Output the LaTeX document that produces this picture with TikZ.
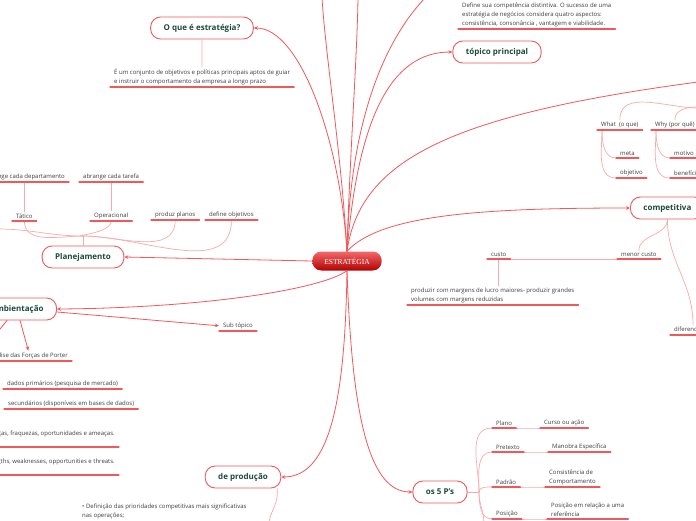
\documentclass[tikz,border=0pt]{standalone}
\usepackage{fontspec}
\setmainfont{Open Sans}
\newfontfamily\slabfont{Liberation Serif}
\usepackage{tikz}
\usetikzlibrary{arrows.meta,calc,positioning}
\definecolor{mmred}{HTML}{F2575A}
\definecolor{mmpink}{HTML}{F7AAAA}
\definecolor{mmgreen}{HTML}{1D4A3A}
\definecolor{mmtext}{HTML}{3C3C3C}

\begin{document}
\begin{tikzpicture}[x=1pt, y=1pt, >={Stealth[length=4pt,width=3.6pt]}, line cap=round, line join=round,
  topic/.style={draw=mmred, line width=.9pt, fill=white, rounded corners=10pt, minimum height=22pt,
    inner xsep=13pt, font=\bfseries\fontsize{8}{10}\selectfont, text=mmgreen},
  leaf/.style={font=\fontsize{6}{9}\selectfont, text=mmtext, inner xsep=4pt, inner ysep=2pt, align=left},
  branch/.style={draw=mmred, line width=.8pt},
  twig/.style={draw=mmpink, line width=.7pt},
  uline/.style={mmred, line width=1.2pt}]
  \useasboundingbox (0,0) rectangle (696,-520);
  \clip (0,0) rectangle (696,-520);

  % Central idea and main topics.
  \node[rounded corners=9pt, minimum height=19pt, inner xsep=12pt, top color=mmred!90!white,
    bottom color=red!70!black, text=white, font=\slabfont\fontsize{7.5}{9}\selectfont] (ctr) at (347,-261) {ESTRATÉGIA};
  \node[topic] (whatis) at (202,-28) {O que é estratégia?};
  \node[topic] (main) at (497,-52) {tópico principal};
  \node[topic] (plan) at (83,-257) {Planejamento};
  \node[topic, anchor=east] (amb) at (57,-309) {Ambientação};
  \node[topic] (prod) at (243,-477) {de produção};
  \node[topic] (fivep) at (440,-492) {os 5 P's};
  \node[topic, anchor=west] (comp) at (630,-208) {competitiva};

  \coordinate (upA) at (322,2);
  \coordinate (upB) at (358,2);
  \coordinate (upC) at (425,2);
  \coordinate (offR) at (698,-82);
  \draw[branch, ->] (ctr.north) .. controls (340,-140) and (300,-28) .. (whatis.east);
  \draw[branch] (ctr.north) .. controls (341,-150) and (326,-60) .. (upA);
  \draw[branch] (ctr.north) .. controls (350,-150) and (357,-60) .. (upB);
  \draw[branch] (ctr.north) .. controls (350,-120) and (385,-40) .. (upC);
  \draw[branch, ->] (ctr.north) .. controls (358,-120) and (390,-52) .. (main.west);
  \draw[branch] (ctr.north) .. controls (360,-160) and (450,-115) .. (offR);
  \draw[branch, ->] (ctr.north) .. controls (380,-215) and (480,-208) .. (comp.west);
  \draw[branch, ->] (ctr.west) -- (plan.east);
  \draw[branch, ->] (ctr.south) .. controls (320,-290) and (200,-308) .. (amb.east);
  \draw[branch, ->] (ctr.south) .. controls (345,-400) and (330,-477) .. (prod.east);
  \draw[branch, ->] (ctr.south) .. controls (352,-420) and (370,-492) .. (fivep.west);

  % O que e estrategia / topo.
  \node[leaf, anchor=south west] (whatisdef) at (110,-87) {É um conjunto de objetivos e políticas principais aptos de guiar\\e instruir o comportamento da empresa a longo prazo};
  \node[leaf, anchor=south west] (define) at (458,-29) {Define sua competência distintiva. O sucesso de uma\\estratégia de negócios considera quatro aspectos:\\consistência, consonância , vantagem e viabilidade.};
  \draw[twig] (whatis.south) -- (whatisdef.north);

  % Planejamento.
  \node[leaf, anchor=south west] (tatico) at (12,-221) {Tático};
  \node[leaf, anchor=south west] (oper) at (90,-221) {Operacional};
  \node[leaf, anchor=south west] (plans) at (151,-220) {produz planos};
  \node[leaf, anchor=south west] (goals) at (205,-220) {define objetivos};
  \node[leaf, anchor=south east] (dept) at (69,-182) {abrange cada departamento};
  \node[leaf, anchor=south west] (task) at (79,-182) {abrange cada tarefa};
  \coordinate (planj) at (83,-236);
  \coordinate (planL) at (-2,-229);
  \draw[twig] (plan.north) -- (planj);
  \draw[twig] (planj) to[out=180, in=0] (planL);
  \foreach \n/\o in {tatico/180, oper/180, plans/0, goals/0}
    \draw[twig] (planj) to[out=\o, in=-90] (\n.south);
  \draw[twig] (tatico.north) -- (tatico.north |- dept.south);
  \draw[twig] (oper.north) -- (oper.north |- task.south);

  % Ambientacao.
  \node[leaf, anchor=south west] (sub) at (219,-331) {Sub tópico};
  \node[leaf, anchor=south east] (porter) at (72,-361) {Análise das Forças de Porter};
  \node[leaf, anchor=south west] (prim) at (3,-389) {dados primários (pesquisa de mercado)};
  \node[leaf, anchor=south west] (sec) at (4,-409) {secundários (disponíveis em bases de dados)};
  \node[leaf, anchor=south east, text depth=9pt] (swotpt) at (119,-447) {Forças, fraquezas, oportunidades e ameaças.};
  \node[leaf, anchor=south east, text depth=9pt] (swoten) at (119,-475) {Strengths, weaknesses, opportunities e threats.};
  \coordinate (ambL) at (-4,-334);
  \draw[branch, ->] ($(amb.east)+(0,-3)$) -- (sub.west);
  \draw[branch, ->] ($(amb.south)+(3,0)$) -- (porter.north);
  \draw[branch] ($(amb.south)+(-10,0)$) -- (ambL);

  % De producao.
  \node[leaf, anchor=north west] (prio) at (78,-502) {• Definição das prioridades competitivas mais significativas\\nas operações;};
  \coordinate (prodD) at (269,-522);
  \draw[twig] ($(prod.south east)+(-4,0)$) -- ++(0,-7) to[out=-95, in=80] (prodD);

  % Os 5 P's.
  \node[leaf, anchor=south west] (plano) at (492,-428) {Plano};
  \node[leaf, anchor=south west] (curso) at (540,-428) {Curso ou ação};
  \node[leaf, anchor=south west] (pretexto) at (492,-452) {Pretexto};
  \node[leaf, anchor=south west] (manobra) at (548,-452) {Manobra Específica};
  \node[leaf, anchor=south west] (padrao) at (492,-487) {Padrão};
  \node[leaf, anchor=south west] (consist) at (545,-487) {Consistência de\\Comportamento};
  \node[leaf, anchor=south west] (posicao) at (492,-519) {Posição};
  \node[leaf, anchor=south west] (posref) at (547,-519) {Posição em relação a uma\\referência};
  \coordinate (fivej) at (479,-492);
  \coordinate (fiveD) at (484,-524);
  \draw[twig] (fivep.east) -- (fivej);
  \foreach \n in {plano, pretexto, padrao}
    \draw[twig] (fivej) to[out=90, in=180] (\n.south west);
  \draw[twig] (fivej) to[out=-90, in=180] (posicao.south west);
  \draw[twig] (fivej) to[out=-90, in=90] (fiveD);
  \foreach \a/\b in {plano/curso, pretexto/manobra, padrao/consist, posicao/posref}
    \draw[twig] (\a.south east) to[out=0, in=180] (\b.south west);

  % Competitiva.
  \node[leaf, anchor=south west] (lowcost) at (617,-259) {menor custo};
  \node[leaf, anchor=south west] (cost) at (487,-259) {custo};
  \node[leaf, anchor=south west] (margins) at (407,-305) {produzir com margens de lucro maiores- produzir grandes\\volumes com margens reduzidas};
  \node[leaf, anchor=south west] (diff) at (670,-335) {diferenciação};
  \coordinate (diffc) at ($(diff.north west)+(23,0)$);
  \draw[twig] (comp.south) to[out=-90, in=90] (lowcost.north);
  \draw[twig] (comp.south) to[out=-90, in=90] (diffc);
  \draw[twig] (lowcost.south west) -- (cost.south east);
  \draw[twig] (cost.south) -- (cost.south |- margins.north);

  % What / Why.
  \node[leaf, anchor=south west] (what) at (597,-130) {What\ \ (o que)};
  \node[leaf, anchor=south west] (why) at (651,-130) {Why (por quê)};
  \node[leaf, anchor=south west] (meta) at (616,-158) {meta};
  \node[leaf, anchor=south west] (objetivo) at (616,-178) {objetivo};
  \node[leaf, anchor=south west] (motivo) at (670,-158) {motivo};
  \node[leaf, anchor=south west] (benef) at (670,-178) {benefício};
  \coordinate (whatR) at (698,-108);
  \coordinate (whyR) at (698,-107);
  \coordinate (whatj) at ($(what.south west)+(5,0)$);
  \coordinate (whyj) at ($(why.south west)+(5,0)$);
  \draw[twig] (what.north) to[out=90, in=180] (whatR);
  \draw[twig] (why.north) to[out=90, in=180] (whyR);
  \foreach \j/\n in {whatj/meta, whatj/objetivo, whyj/motivo, whyj/benef}
    \draw[twig] (\j) to[out=-90, in=180] (\n.south west);

  % Underlines.
  \foreach \n in {whatisdef, define, tatico, oper, plans, goals, dept, task, sub, porter, prim, sec,
      swotpt, swoten, plano, curso, pretexto, manobra, padrao, consist, posicao, posref,
      lowcost, cost, margins, diff, what, why, meta, objetivo, motivo, benef}
    \draw[uline] (\n.south west) -- (\n.south east);
\end{tikzpicture}
\end{document}
